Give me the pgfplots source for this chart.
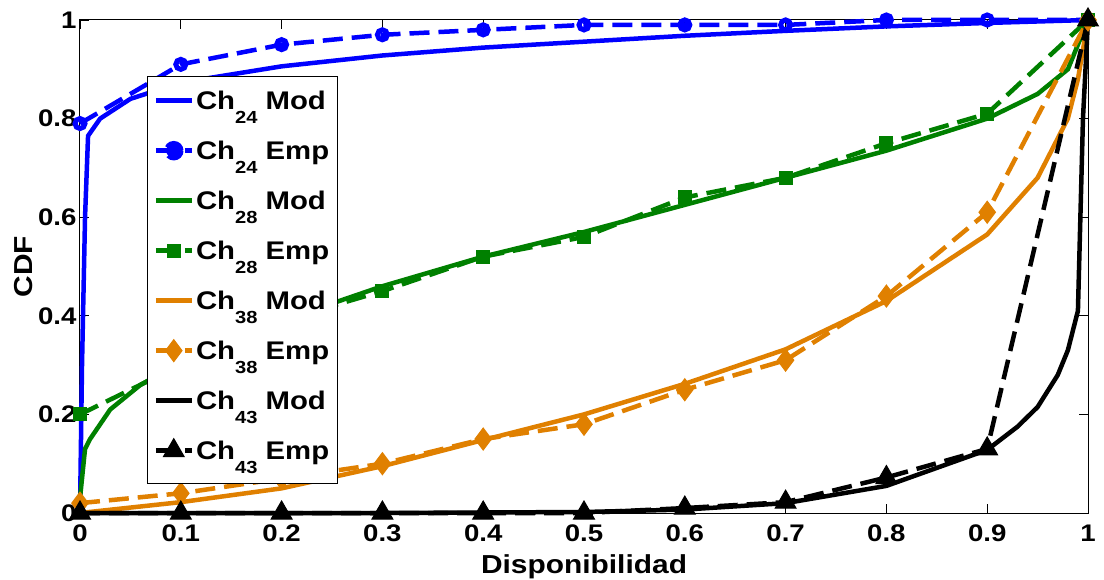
\documentclass[border=0pt]{standalone}
\usepackage{pgfplots}
\pgfplotsset{compat=1.18}
\usetikzlibrary{calc}
\usepackage{fontspec}
\setmainfont{Liberation Sans}[FakeStretch=1.15]
\definecolor{mblue}{RGB}{0,0,255}
\definecolor{mgreen}{RGB}{0,128,0}
\definecolor{morange}{RGB}{224,128,0}
\newcommand{\sub}[1]{\raisebox{-14pt}{\fontsize{17.5}{17.5}\selectfont #1}}
\newcommand{\tickf}{\fontsize{24}{28}\selectfont\bfseries}
\newcommand{\labf}{\fontsize{26}{30}\selectfont\bfseries}
\newcommand{\legf}{\fontsize{25.5}{30}\selectfont\bfseries}
\begin{document}
\begin{tikzpicture}
\begin{axis}[
  scale only axis, width=1008pt, height=493pt,
  xmin=0, xmax=1, ymin=0, ymax=1,
  xtick={0,0.1,...,1}, ytick={0,0.2,...,1},
  xticklabels={0,0.1,0.2,0.3,0.4,0.5,0.6,0.7,0.8,0.9,1},
  yticklabels={0,0.2,0.4,0.6,0.8,1},
  tick align=inside, major tick length=9pt,
  axis line style={line width=1pt},
  every tick/.style={line width=0.8pt, black},
  font=\labf,
  tick label style={font=\tickf},
  xticklabel style={yshift=-8pt},
  /pgf/number format/assume math mode=true,
  xlabel={Disponibilidad}, ylabel={CDF},
  xlabel style={font=\labf, yshift=-6pt},
  ylabel style={font=\labf, yshift=-2pt},
  clip=false,
  legend style={at={(0.0665,0.886)}, anchor=north west, draw=black, line width=1pt,
    font=\legf, row sep=7pt, inner xsep=6pt, inner ysep=7pt,
    nodes={inner sep=2pt, text height=24pt, text depth=15pt},
    cells={anchor=west}},
  legend image code/.code={\draw[mark repeat=2,mark phase=2] plot coordinates {(0pt,4.5pt) (18pt,4.5pt) (36pt,4.5pt)};},
  every axis plot/.append style={line width=4.5pt},
  emp/.style={dash pattern=on 20pt off 9pt},
]
% Ch24 Mod
\addplot[mblue, solid, no marks] coordinates {(0,0) (0.002,0.3) (0.005,0.6) (0.008,0.765) (0.02,0.8) (0.05,0.84) (0.1,0.873) (0.2,0.906) (0.3,0.928) (0.4,0.944) (0.5,0.956) (0.6,0.968) (0.7,0.978) (0.8,0.987) (0.9,0.994) (1,1)};
\addlegendentry{Ch\sub{24} Mod}
% Ch24 Emp
\addplot[mblue, emp, mark=o, mark size=5pt, mark options={solid, line width=5pt},
  legend image code/.code={\draw[mark=none] (0pt,4.5pt) -- (36pt,4.5pt); \fill (18pt,4.5pt) circle (7.5pt);}] coordinates {(0,0.79) (0.1,0.91) (0.2,0.95) (0.3,0.97) (0.4,0.98) (0.5,0.99) (0.6,0.99) (0.7,0.99) (0.8,1) (0.9,1) (1,1)};
\addlegendentry{Ch\sub{24} Emp}
% Ch28 Mod
\addplot[mgreen, solid, no marks] coordinates {(0,0.03) (0.005,0.13) (0.01,0.15) (0.03,0.21) (0.06,0.26) (0.1,0.305) (0.2,0.39) (0.3,0.46) (0.4,0.52) (0.5,0.57) (0.6,0.625) (0.7,0.68) (0.8,0.735) (0.9,0.80) (0.95,0.85) (0.98,0.9) (1,1)};
\addlegendentry{Ch\sub{28} Mod}
% Ch28 Emp
\addplot[mgreen, emp, mark=square*, mark size=6.5pt, mark options={solid, line width=1pt}] coordinates {(0,0.2) (0.1,0.3) (0.2,0.39) (0.3,0.45) (0.4,0.52) (0.5,0.56) (0.6,0.64) (0.7,0.68) (0.8,0.75) (0.9,0.81) (1,1)};
\addlegendentry{Ch\sub{28} Emp}
% Ch38 Mod
\addplot[morange, solid, no marks] coordinates {(0,0) (0.1,0.022) (0.2,0.05) (0.3,0.095) (0.4,0.148) (0.5,0.2) (0.6,0.262) (0.7,0.332) (0.8,0.43) (0.9,0.565) (0.95,0.68) (0.98,0.8) (0.99,0.88) (1,1)};
\addlegendentry{Ch\sub{38} Mod}
% Ch38 Emp
\addplot[morange, emp, mark=diamond*, mark size=11pt, mark options={solid, line width=1pt}] coordinates {(0,0.02) (0.1,0.04) (0.2,0.07) (0.3,0.1) (0.4,0.15) (0.5,0.18) (0.6,0.25) (0.7,0.31) (0.8,0.44) (0.9,0.61) (1,1)};
\addlegendentry{Ch\sub{38} Emp}
% Ch43 Mod
\addplot[black, solid, no marks] coordinates {(0,0) (0.3,0) (0.5,0.002) (0.6,0.007) (0.7,0.02) (0.8,0.055) (0.9,0.128) (0.93,0.175) (0.95,0.215) (0.97,0.28) (0.98,0.33) (0.99,0.41) (0.995,0.8) (1,1)};
\addlegendentry{Ch\sub{43} Mod}
% Ch43 Emp
\addplot[black, emp, mark=triangle*, mark size=12pt, mark options={solid, line width=1pt}] coordinates {(0,0) (0.1,0) (0.2,0) (0.3,0) (0.4,0) (0.5,0) (0.6,0.01) (0.7,0.022) (0.8,0.072) (0.9,0.13) (1,1)};
\addlegendentry{Ch\sub{43} Emp}
\end{axis}
\pgfresetboundingbox
\path ($(current axis.south west)+(-80pt,-67pt)$) rectangle ($(current axis.north east)+(16pt,20pt)$);
\end{tikzpicture}
\end{document}
